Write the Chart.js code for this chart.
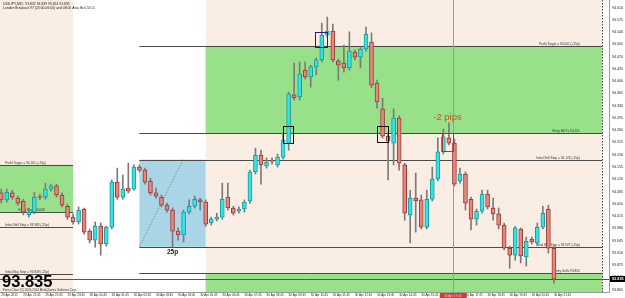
<!DOCTYPE html>
<html>
<head>
<meta charset="utf-8">
<script src="https://cdn.jsdelivr.net/npm/chart.js"></script>
<style>
  html, body { margin: 0; padding: 0; background: #fff; }
  #wrap { width: 625px; height: 298px; }
</style>
</head>
<body>
<div id="wrap"><canvas id="chart" width="625" height="298"></canvas></div>
<script>
// USDJPY M15 - one bar every 15 minutes, bar 0 = 29 Apr 20:45, bar 100 = 30 Apr 21:45
const tickPos = [0, 4, 8, 12, 16, 20, 24, 28, 32, 36, 40, 44, 48, 52, 56, 60, 64, 68, 72, 76, 80, 84, 88, 92, 96, 100];
const tickLabels = ['29 Apr 2015', '29 Apr 21:45', '29 Apr 22:45', '29 Apr 23:45', '30 Apr 00:45', '30 Apr 01:45',
  '30 Apr 02:45', '30 Apr 03:45', '30 Apr 04:45', '30 Apr 05:45', '30 Apr 06:45', '30 Apr 07:45', '30 Apr 08:45',
  '30 Apr 09:45', '30 Apr 10:45', '30 Apr 11:45', '30 Apr 12:45', '30 Apr 13:45', '30 Apr 14:45', '30 Apr 15:45',
  '30 Apr 16:45', '30 Apr 17:45', '30 Apr 18:45', '30 Apr 19:45', '30 Apr 20:45', '30 Apr 21:45'];
const priceTicks = [94.610, 94.575, 94.540, 94.505, 94.470, 94.435, 94.400, 94.365, 94.330, 94.295, 94.260, 94.225,
  94.190, 94.155, 94.120, 94.085, 94.050, 94.015, 93.980, 93.945, 93.910, 93.875, 93.840, 93.805];

const open = [
  94.081, 94.061, 94.081, 94.066, 94.058, 94.018, 94.026, 94.069, 94.069, 94.092,
  94.101, 94.075, 94.043, 94.012, 93.998, 94.035, 93.972, 93.946, 93.986, 93.935,
  93.983, 94.112, 94.069, 94.095, 94.092, 94.155, 94.146, 94.115, 94.081, 94.069,
  94.046, 94.032, 93.972, 93.961, 94.026, 94.043, 94.061, 94.055, 93.995, 94.006,
  94.012, 94.069, 94.038, 94.029, 94.035, 94.058, 94.141, 94.189, 94.158, 94.172,
  94.161, 94.183, 94.223, 94.361, 94.355, 94.432, 94.412, 94.441, 94.461, 94.532,
  94.543, 94.458, 94.452, 94.438, 94.483, 94.469, 94.492, 94.512, 94.395, 94.321,
  94.243, 94.223, 94.295, 94.161, 94.018, 94.066, 94.061, 93.983, 94.063, 94.121,
  94.198, 94.238, 94.223, 94.115, 94.135, 94.063, 94.006, 94.029, 94.078, 94.038,
  94.021, 93.989, 93.923, 93.903, 93.978, 93.898, 93.949, 93.938, 93.983, 94.035,
  93.923];
const high = [
  94.092, 94.092, 94.089, 94.072, 94.063, 94.038, 94.083, 94.078, 94.109, 94.106,
  94.106, 94.081, 94.049, 94.021, 94.041, 94.038, 93.978, 93.998, 93.995, 93.986,
  94.118, 94.152, 94.132, 94.166, 94.161, 94.161, 94.152, 94.123, 94.095, 94.075,
  94.052, 94.038, 93.981, 94.032, 94.061, 94.072, 94.066, 94.061, 94.012, 94.023,
  94.109, 94.109, 94.043, 94.041, 94.061, 94.146, 94.209, 94.203, 94.181, 94.181,
  94.192, 94.252, 94.369, 94.452, 94.455, 94.455, 94.446, 94.466, 94.566, 94.583,
  94.563, 94.463, 94.503, 94.541, 94.489, 94.498, 94.555, 94.538, 94.403, 94.352,
  94.249, 94.321, 94.301, 94.166, 94.089, 94.138, 94.075, 94.089, 94.155, 94.238,
  94.263, 94.281, 94.235, 94.152, 94.141, 94.069, 94.035, 94.089, 94.089, 94.066,
  94.038, 93.995, 93.929, 93.986, 93.981, 93.955, 93.955, 93.995, 94.043, 94.046,
  93.929];
const low = [
  94.052, 94.055, 94.063, 94.046, 94.018, 94.012, 94.021, 94.061, 94.063, 94.086,
  94.069, 94.041, 94.006, 93.992, 93.992, 93.963, 93.938, 93.926, 93.903, 93.929,
  93.978, 94.063, 94.063, 94.081, 94.089, 94.141, 94.106, 94.075, 94.066, 94.041,
  94.026, 93.926, 93.946, 93.941, 94.021, 94.038, 94.032, 93.986, 93.989, 94.001,
  94.006, 94.032, 94.018, 94.023, 94.026, 94.052, 94.135, 94.106, 94.152, 94.163,
  94.155, 94.178, 94.203, 94.346, 94.346, 94.406, 94.383, 94.418, 94.455, 94.526,
  94.455, 94.403, 94.426, 94.432, 94.461, 94.438, 94.486, 94.381, 94.323, 94.238,
  94.118, 94.161, 94.146, 94.003, 93.938, 93.969, 93.978, 93.978, 94.058, 94.115,
  94.192, 94.218, 94.101, 94.109, 94.032, 93.975, 93.989, 94.023, 94.035, 94.003,
  93.978, 93.918, 93.866, 93.889, 93.881, 93.872, 93.935, 93.932, 93.978, 93.909,
  93.823];
const close = [
  94.061, 94.083, 94.069, 94.052, 94.026, 94.026, 94.069, 94.068, 94.092, 94.101,
  94.075, 94.046, 94.012, 93.998, 94.032, 93.969, 93.946, 93.986, 93.935, 93.983,
  94.112, 94.069, 94.092, 94.086, 94.155, 94.146, 94.112, 94.081, 94.072, 94.046,
  94.032, 93.972, 93.961, 94.026, 94.043, 94.063, 94.055, 93.992, 94.006, 94.012,
  94.063, 94.038, 94.023, 94.035, 94.055, 94.141, 94.189, 94.161, 94.169, 94.171,
  94.183, 94.232, 94.363, 94.352, 94.421, 94.412, 94.441, 94.461, 94.532, 94.543,
  94.461, 94.446, 94.438, 94.486, 94.469, 94.492, 94.535, 94.389, 94.341, 94.243,
  94.229, 94.295, 94.166, 94.023, 94.066, 94.058, 93.983, 94.063, 94.121, 94.198,
  94.241, 94.223, 94.106, 94.135, 94.052, 94.006, 94.029, 94.078, 94.041, 94.021,
  93.989, 93.923, 93.903, 93.981, 93.901, 93.943, 93.941, 93.983, 94.023, 93.923,
  93.835];

const lastPrice = 93.835;
const sessionEnd = 108.75;            // dotted end of the London day
const sessions = [[-1, 13], [37, 108.75]];   // beige background, in bars
// [fromBar, toBar, top, bottom, colour]
const zones = [
  [-1, 13, 94.161, 94.026, '#98e08a'],
  [25, 37, 94.176, 93.927, '#a9d5e6'],
  [37, 108.75, 94.501, 94.251, '#98e08a'],
  [37, 108.75, 93.852, 93.602, '#98e08a']
];
// [fromBar, toBar, price, label, labelBar, align]
const levels = [
  [-1, 13, 94.161, 'Profit Target = 94.161 (+25p)', 0.7, 'left'],
  [-1, 13, 94.026, 'Entry Buy= 94.026', 7.9, 'right'],
  [-1, 13, 93.983, 'Initial Sell Stop = 93.983 (-25p)', 0.7, 'left'],
  [-1, 13, 93.849, 'Initial Buy Stop = 93.849 (-25p)', 0.7, 'left'],
  [25, 108.75, 94.501, 'Profit Target = 94.501 (+25p)', 104.7, 'right'],
  [25, 108.75, 94.251, 'Entry BUY= 94.251', 104.7, 'right'],
  [25, 108.75, 94.176, 'Initial Sell Stop = 94.176 (-25p)', 104.7, 'right'],
  [25, 108.75, 93.927, 'Initial Buy Stop = 93.927 (-25p)', 104.7, 'right'],
  [25, 108.75, 93.852, 'Entry Sell= 93.852', 104.7, 'right']
];
const asiaDiagonal = [25, 93.927, 32.9, 94.176];
// marker squares [fromBar, toBar, top, bottom, colour]
const marks = [
  [50.9, 52.8, 94.272, 94.224, '#111111'],
  [56.8, 58.9, 94.541, 94.498, '#1d1d8a'],
  [68.0, 70.0, 94.272, 94.226, '#111111'],
  [79.75, 81.75, 94.251, 94.201, '#b8322c']
];
const pipsText = ['-2 pips', 80.75, 94.289];
const rangeText = ['25p', 31, 93.927];
const cursorBar = 81.7;
const cursorLabel = '30 Apr 17:00';

const UP = '#35e3e3', UP_EDGE = '#1c9c9c';
const DN = '#e3877f', DN_EDGE = '#9c3a34';
const bars = open.map((_, i) => i);

const mt4 = {
  id: 'mt4',
  beforeDatasetsDraw(chart) {
    const { ctx, chartArea: a } = chart;
    const X = v => chart.scales.x.getPixelForValue(v);
    const Y = v => chart.scales.y.getPixelForValue(v);
    ctx.save();
    ctx.beginPath();
    ctx.rect(a.left, a.top, a.width, a.height);
    ctx.clip();

    ctx.fillStyle = '#faeee4';
    sessions.forEach(s => ctx.fillRect(X(s[0]), a.top, X(s[1]) - X(s[0]), a.height));
    zones.forEach(z => {
      ctx.fillStyle = z[4];
      ctx.fillRect(X(z[0]), Y(z[2]), X(z[1]) - X(z[0]), Y(z[3]) - Y(z[2]));
    });

    ctx.lineWidth = 1;
    ctx.strokeStyle = '#8d8d8d';
    ctx.setLineDash([1.5, 1.5]);
    ctx.beginPath();
    ctx.moveTo(X(asiaDiagonal[0]), Y(asiaDiagonal[1]));
    ctx.lineTo(X(asiaDiagonal[2]), Y(asiaDiagonal[3]));
    ctx.stroke();

    ctx.strokeStyle = '#444';
    const xe = Math.round(X(sessionEnd)) + 0.5;
    ctx.beginPath();
    ctx.moveTo(xe, a.top);
    ctx.lineTo(xe, a.bottom);
    ctx.stroke();
    ctx.setLineDash([]);

    ctx.strokeStyle = '#4a4a4a';
    levels.forEach(l => {
      const y = Math.round(Y(l[2])) + 0.5;
      ctx.beginPath();
      ctx.moveTo(X(l[0]), y);
      ctx.lineTo(X(l[1]), y);
      ctx.stroke();
    });

    // bid line
    const yb = Math.round(Y(lastPrice)) + 0.5;
    ctx.strokeStyle = '#555';
    ctx.beginPath();
    ctx.moveTo(a.left, yb);
    ctx.lineTo(a.right, yb);
    ctx.stroke();

    // crosshair line
    const xc = Math.round(X(cursorBar)) + 0.5;
    ctx.strokeStyle = '#d9807a';
    ctx.beginPath();
    ctx.moveTo(xc, a.top);
    ctx.lineTo(xc, a.bottom);
    ctx.stroke();

    ctx.fillStyle = '#333';
    ctx.font = '3.2px Arial';
    ctx.textBaseline = 'bottom';
    levels.forEach(l => {
      ctx.textAlign = l[5];
      ctx.fillText(l[3], X(l[4]), Math.round(Y(l[2])) - 0.5);
    });
    ctx.restore();
  },

  afterDatasetsDraw(chart) {
    const { ctx } = chart;
    const X = v => chart.scales.x.getPixelForValue(v);
    const Y = v => chart.scales.y.getPixelForValue(v);
    ctx.save();
    ctx.lineWidth = 1;
    marks.forEach(m => {
      ctx.strokeStyle = m[4];
      const x0 = Math.round(X(m[0])) + 0.5, x1 = Math.round(X(m[1])) + 0.5;
      const y0 = Math.round(Y(m[2])) + 0.5, y1 = Math.round(Y(m[3])) + 0.5;
      ctx.strokeRect(x0, y0, x1 - x0, y1 - y0);
    });

    ctx.fillStyle = '#dc4a22';
    ctx.font = '9.5px Arial';
    ctx.textAlign = 'center';
    ctx.textBaseline = 'alphabetic';
    ctx.fillText(pipsText[0], X(pipsText[1]), Y(pipsText[2]));

    ctx.fillStyle = '#222';
    ctx.font = 'bold 6.5px Arial';
    ctx.textBaseline = 'top';
    ctx.fillText(rangeText[0], X(rangeText[1]), Y(rangeText[2]) + 2);
    ctx.restore();
  },

  afterDraw(chart) {
    const { ctx, chartArea: a } = chart;
    const X = v => chart.scales.x.getPixelForValue(v);
    const Y = v => chart.scales.y.getPixelForValue(v);
    ctx.save();

    // frame
    ctx.strokeStyle = '#9a9a9a';
    ctx.lineWidth = 1;
    ctx.beginPath();
    ctx.moveTo(a.right + 0.5, a.top);
    ctx.lineTo(a.right + 0.5, a.bottom + 0.5);
    ctx.lineTo(a.left, a.bottom + 0.5);
    ctx.stroke();

    // header
    ctx.fillStyle = '#222';
    ctx.font = '3.4px Arial';
    ctx.textAlign = 'left';
    ctx.textBaseline = 'top';
    ctx.fillText('USDJPY,M15  93.832 93.839 93.824 93.835', 3, 2);
    ctx.fillText('London Breakout V7 (23:00-06:00) and 08:00 Asia fib 0.5/1.5', 3, 6.5);

    // big bid
    ctx.fillStyle = '#000';
    ctx.font = 'bold 16.5px Arial';
    ctx.textBaseline = 'alphabetic';
    ctx.fillText('93.835', 2, 287);
    ctx.font = '3px Arial';
    ctx.fillStyle = '#333';
    ctx.fillText('Forex Chart (C) 2001-2014 MetaQuotes Software Corp.', 3, 291);

    // price marker on the axis
    const yb = Math.round(Y(lastPrice));
    ctx.fillStyle = '#000';
    ctx.fillRect(a.right + 1, yb - 3, 625 - a.right - 1, 6);
    ctx.fillStyle = '#fff';
    ctx.font = 'bold 3.8px Arial';
    ctx.textBaseline = 'middle';
    ctx.fillText(lastPrice.toFixed(3), a.right + 3, yb);

    // crosshair time label
    const xc = X(cursorBar);
    ctx.fillStyle = '#e2332c';
    ctx.fillRect(xc - 13, a.bottom + 1, 27, 6);
    ctx.fillStyle = '#ffd0c8';
    ctx.font = '3px Arial';
    ctx.textAlign = 'center';
    ctx.fillText(cursorLabel, xc, a.bottom + 4);
    ctx.restore();
  }
};

new Chart(document.getElementById('chart'), {
  type: 'bar',
  data: {
    datasets: [
      {
        label: 'body',
        data: bars.map(i => ({ x: i, y: [open[i], close[i]] })),
        backgroundColor: bars.map(i => close[i] >= open[i] ? UP : DN),
        borderColor: bars.map(i => close[i] >= open[i] ? UP_EDGE : DN_EDGE),
        borderWidth: 1,
        borderSkipped: false,
        barThickness: 4,
        minBarLength: 1,
        grouped: false,
        order: 0
      },
      {
        label: 'wick',
        data: bars.map(i => ({ x: i, y: [low[i], high[i]] })),
        backgroundColor: '#7b7b7b',
        barThickness: 1,
        grouped: false,
        order: 1
      }
    ]
  },
  options: {
    responsive: false,
    animation: false,
    events: [],
    layout: { padding: 0 },
    plugins: { legend: { display: false }, tooltip: { enabled: false } },
    scales: {
      x: {
        type: 'linear',
        position: 'bottom',
        offset: false,
        min: -0.22,
        max: 109.97,
        grid: { display: false, drawTicks: false },
        border: { display: false },
        afterBuildTicks: s => { s.ticks = tickPos.map(v => ({ value: v })); },
        afterFit: s => { s.height = 6; s.paddingLeft = 0; s.paddingRight = 0; },
        ticks: {
          autoSkip: false,
          maxRotation: 0,
          align: 'start',
          padding: 1,
          color: '#222',
          font: { family: 'Arial', size: 3 },
          callback: (v, i) => tickLabels[i]
        }
      },
      y: {
        type: 'linear',
        position: 'right',
        min: 93.798,
        max: 94.632,
        grid: { display: false, drawTicks: false },
        border: { display: false },
        afterBuildTicks: s => { s.ticks = priceTicks.map(v => ({ value: v })); },
        afterFit: s => { s.width = 16; s.paddingTop = 0; s.paddingBottom = 0; },
        ticks: {
          padding: 3,
          color: '#222',
          font: { family: 'Arial', size: 3.6 },
          callback: v => v.toFixed(3)
        }
      }
    }
  },
  plugins: [mt4]
});
</script>
</body>
</html>
